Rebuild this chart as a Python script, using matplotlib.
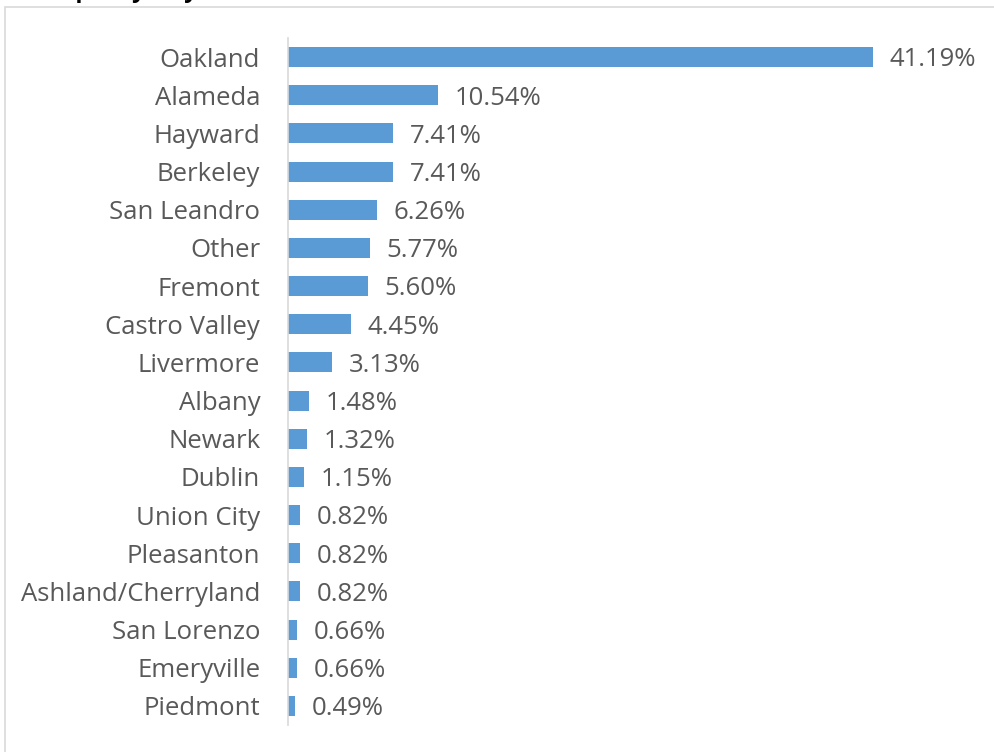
import matplotlib.pyplot as plt
from matplotlib.patches import Rectangle

# data (share of responses, %)
cities = ["Oakland", "Alameda", "Hayward", "Berkeley", "San Leandro", "Other",
          "Fremont", "Castro Valley", "Livermore", "Albany", "Newark", "Dublin",
          "Union City", "Pleasanton", "Ashland/Cherryland", "San Lorenzo",
          "Emeryville", "Piedmont"]
shares = [41.19, 10.54, 7.41, 7.41, 6.26, 5.77, 5.60, 4.45, 3.13, 1.48, 1.32,
          1.15, 0.82, 0.82, 0.82, 0.66, 0.66, 0.49]
title = "Sample by City (607)"

plt.rcParams['font.family'] = ['Open Sans', 'DejaVu Sans']

W, H = 994, 752
fig = plt.figure(figsize=(W / 100, H / 100), dpi=100)

# outer chart border (runs off the right and bottom edges)
fig.patches.append(Rectangle((5 / W, -0.1), 1.2, 1 - 7 / H + 0.1,
                             transform=fig.transFigure, fill=False,
                             edgecolor='#D9D9D9', linewidth=1.2))

# title sits above the visible area, only its descenders show
fig.text(25 / W, 1 + 3 / H, title, fontsize=17, fontweight='bold',
         color='black', ha='left', va='baseline')

xmax = 45
left, right = 288 / W, (288 + xmax * 14.2) / W
top, bottom = 1 - 38 / H, 1 - 725 / H
ax = fig.add_axes([left, bottom, right - left, top - bottom])

y = list(range(len(cities)))
ax.barh(y, shares, height=0.52, color='#5B9BD5')
ax.set_ylim(len(cities) - 0.5, -0.5)
ax.set_xlim(0, xmax)

for yi, v in zip(y, shares):
    ax.annotate(f"{v:.2f}%", (v, yi), xytext=(12, -2), textcoords='offset points',
                va='center', ha='left', fontsize=18.5, color='#595959',
                annotation_clip=False)

ax.set_yticks(y)
ax.set_yticklabels(cities, fontsize=18.5, color='#595959')
ax.tick_params(axis='y', length=0, pad=20)
ax.set_xticks([])
for s in ['top', 'right', 'bottom']:
    ax.spines[s].set_visible(False)
ax.spines['left'].set_color('#D9D9D9')
ax.spines['left'].set_linewidth(1.2)

fig.savefig('out.png', dpi=100)
